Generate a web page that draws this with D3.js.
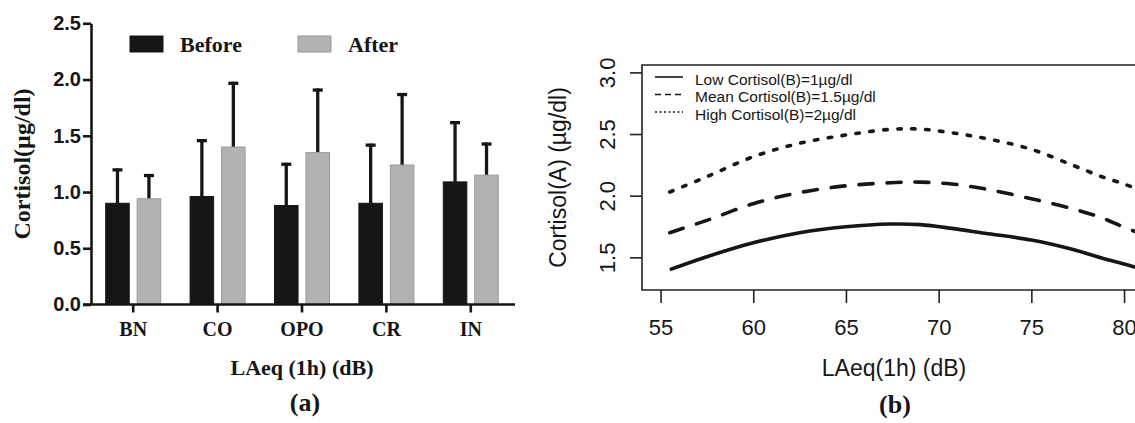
<!DOCTYPE html>
<html>
<head>
<meta charset="utf-8">
<script src="https://cdn.jsdelivr.net/npm/d3@7"></script>
<style>
  body { margin: 0; background: #fff; }
  svg { display: block; }
  .serif { font-family: "Liberation Serif", "Times New Roman", serif; font-weight: bold; }
  .sans { font-family: "Liberation Sans", Arial, sans-serif; }
</style>
</head>
<body>
<svg id="chart" width="1135" height="423"></svg>
<script>
// panel (a) data
const categories = ["BN", "CO", "OPO", "CR", "IN"];
const groups = ["Before", "After"];
const beforeMean = [0.90, 0.96, 0.88, 0.90, 1.09];
const beforeSD = [0.31, 0.51, 0.38, 0.53, 0.54];
const afterMean = [0.94, 1.40, 1.35, 1.24, 1.15];
const afterSD = [0.22, 0.58, 0.57, 0.64, 0.29];
const yTicksA = [0, 0.5, 1.0, 1.5, 2.0, 2.5];

// panel (b) data
const laeq = [55.5, 57.5, 60, 62.5, 65, 67.4, 69, 70.7, 72.5, 75, 77.2, 78.8, 79.9, 80.6];
const lowCort = [1.40, 1.505, 1.618, 1.70, 1.748, 1.77, 1.765, 1.735, 1.695, 1.64, 1.565, 1.495, 1.45, 1.42];
const meanCort = [1.70, 1.80, 1.935, 2.025, 2.08, 2.105, 2.11, 2.095, 2.055, 1.975, 1.895, 1.82, 1.75, 1.71];
const highCort = [2.03, 2.154, 2.316, 2.425, 2.492, 2.538, 2.54, 2.51, 2.465, 2.376, 2.249, 2.154, 2.10, 2.06];
const xTicksB = [55, 60, 65, 70, 75, 80];
const yTicksB = [1.5, 2.0, 2.5, 3.0];
const legendB = ["Low Cortisol(B)=1\u00b5g/dl", "Mean Cortisol(B)=1.5\u00b5g/dl", "High Cortisol(B)=2\u00b5g/dl"];

const svg = d3.select("#chart");
svg.append("rect").attr("width", 1135).attr("height", 423).attr("fill", "#fff");

// ---------- panel (a): bar chart ----------
const gA = svg.append("g");
const x0 = d3.scaleBand().domain(categories).range([91, 513]);
const x1 = d3.scaleBand().domain(groups).range([-28, 28]).paddingInner(0.22);
const yA = d3.scaleLinear().domain([0, 2.5]).range([304.5, 23.3]);

const barData = [];
categories.forEach((c, i) => {
  barData.push({ cat: c, grp: "Before", mean: beforeMean[i], sd: beforeSD[i] });
  barData.push({ cat: c, grp: "After", mean: afterMean[i], sd: afterSD[i] });
});
const fillA = { Before: "#161616", After: "#b2b2b2" };
const strokeA = { Before: "#161616", After: "#9a9a9a" };
const cx = d => x0(d.cat) + x0.bandwidth() / 2 + x1(d.grp);

// error bars first, bars cover the lower half
gA.selectAll(".err").data(barData).enter().append("line")
  .attr("x1", d => cx(d) + x1.bandwidth() / 2)
  .attr("x2", d => cx(d) + x1.bandwidth() / 2)
  .attr("y1", d => yA(d.mean))
  .attr("y2", d => yA(d.mean + d.sd))
  .attr("stroke", "#161616").attr("stroke-width", 3.3);
gA.selectAll(".cap").data(barData).enter().append("line")
  .attr("x1", d => cx(d) + x1.bandwidth() / 2 - 5)
  .attr("x2", d => cx(d) + x1.bandwidth() / 2 + 5)
  .attr("y1", d => yA(d.mean + d.sd) + 1.5)
  .attr("y2", d => yA(d.mean + d.sd) + 1.5)
  .attr("stroke", "#161616").attr("stroke-width", 3.3);

gA.selectAll(".bar").data(barData).enter().append("rect")
  .attr("x", d => cx(d) + 0.5)
  .attr("y", d => yA(d.mean))
  .attr("width", x1.bandwidth() - 1)
  .attr("height", d => yA(0) - yA(d.mean))
  .attr("fill", d => fillA[d.grp])
  .attr("stroke", d => strokeA[d.grp])
  .attr("stroke-width", 1);

// y axis
const yAxisA = gA.append("g").attr("transform", "translate(91,0)")
  .call(d3.axisLeft(yA).tickValues(yTicksA).tickFormat(d3.format(".1f")).tickSize(8).tickSizeOuter(0).tickPadding(2));
yAxisA.select(".domain").attr("stroke", "#161616").attr("stroke-width", 2.6);
yAxisA.selectAll(".tick line").attr("stroke", "#161616").attr("stroke-width", 2.6);
yAxisA.selectAll(".tick text").attr("class", "sans").attr("font-size", 20).attr("font-weight", "bold").attr("fill", "#161616");

// x axis
const xAxisA = gA.append("g").attr("transform", "translate(0,304.5)")
  .call(d3.axisBottom(x0).tickSize(8).tickSizeOuter(0).tickPadding(4));
xAxisA.select(".domain").attr("d", "M83,0H515").attr("stroke", "#161616").attr("stroke-width", 2.6);
xAxisA.selectAll(".tick line").attr("stroke", "#161616").attr("stroke-width", 2.6);
xAxisA.selectAll(".tick text").attr("class", "serif").attr("font-size", 20).attr("fill", "#161616")
  .attr("dy", null).attr("y", 31);

gA.append("text").attr("class", "serif")
  .attr("transform", "translate(30,164) rotate(-90)")
  .attr("text-anchor", "middle").attr("font-size", 24).attr("fill", "#161616")
  .text("Cortisol(\u00b5g/dl)");
gA.append("text").attr("class", "serif").attr("x", 302).attr("y", 375)
  .attr("text-anchor", "middle").attr("font-size", 22).attr("fill", "#161616")
  .text("LAeq (1h) (dB)");
gA.append("text").attr("class", "serif").attr("x", 305).attr("y", 411)
  .attr("text-anchor", "middle").attr("font-size", 26).attr("fill", "#161616")
  .text("(a)");

// legend (a)
const legA = gA.selectAll(".legA").data(groups).enter().append("g")
  .attr("transform", (d, i) => `translate(${130 + i * 168},36)`);
legA.append("rect").attr("width", 33).attr("height", 16)
  .attr("fill", d => fillA[d]).attr("stroke", d => strokeA[d]);
legA.append("text").attr("class", "serif").attr("x", 50).attr("y", 16)
  .attr("font-size", 22).attr("fill", "#161616").text(d => d);

// ---------- panel (b): curves ----------
const gB = svg.append("g");
const xB = d3.scaleLinear().domain([54, 82]).range([642, 642 + 28 * 18.54]);
const yB = d3.scaleLinear().domain([1.235, 3.06]).range([290, 65]);

gB.append("clipPath").attr("id", "clipB").append("rect")
  .attr("x", 642).attr("y", 65).attr("width", 600).attr("height", 225);

const line = d3.line().x(d => xB(d[0])).y(d => yB(d[1])).curve(d3.curveCatmullRom.alpha(0.5));
const curves = [
  { vals: lowCort, dash: null, cap: "butt" },
  { vals: meanCort, dash: "14,14", cap: "round" },
  { vals: highCort, dash: "3.5,10.5", cap: "round" }
];
gB.selectAll(".curve").data(curves).enter().append("path")
  .attr("clip-path", "url(#clipB)")
  .attr("d", c => line(laeq.map((v, i) => [v, c.vals[i]])))
  .attr("fill", "none").attr("stroke", "#161616").attr("stroke-width", 3.6)
  .attr("stroke-linecap", c => c.cap)
  .attr("stroke-dasharray", c => c.dash);

// box (right edge falls outside the picture)
gB.append("path").attr("d", "M1160,65H642V290H1160")
  .attr("fill", "none").attr("stroke", "#222").attr("stroke-width", 1.6);

const xAxisB = gB.append("g").attr("transform", "translate(0,290)")
  .call(d3.axisBottom(xB).tickValues(xTicksB).tickSize(13).tickPadding(7));
xAxisB.select(".domain").remove();
xAxisB.selectAll(".tick line").attr("stroke", "#222").attr("stroke-width", 1.6);
xAxisB.selectAll(".tick text").attr("class", "sans").attr("font-size", 22).attr("fill", "#161616")
  .attr("dy", null).attr("y", 45);

const yAxisB = gB.append("g").attr("transform", "translate(642,0)")
  .call(d3.axisLeft(yB).tickValues(yTicksB).tickFormat(d3.format(".1f")).tickSize(12));
yAxisB.select(".domain").remove();
yAxisB.selectAll(".tick line").attr("stroke", "#222").attr("stroke-width", 1.6);
yAxisB.selectAll(".tick text").attr("class", "sans").attr("font-size", 22).attr("fill", "#161616")
  .attr("x", null).attr("dy", null).attr("text-anchor", "middle")
  .attr("transform", "translate(-27,0) rotate(-90)");

gB.append("text").attr("class", "sans")
  .attr("transform", "translate(566,177.5) rotate(-90)")
  .attr("text-anchor", "middle").attr("font-size", 23).attr("fill", "#161616")
  .text("Cortisol(A) (\u00b5g/dl)");
gB.append("text").attr("class", "sans").attr("x", 894).attr("y", 376)
  .attr("text-anchor", "middle").attr("font-size", 23).attr("fill", "#161616")
  .text("LAeq(1h) (dB)");
gB.append("text").attr("class", "serif").attr("x", 895).attr("y", 413)
  .attr("text-anchor", "middle").attr("font-size", 26).attr("fill", "#161616")
  .text("(b)");

// legend (b)
const legB = gB.selectAll(".legB").data(legendB).enter().append("g")
  .attr("transform", (d, i) => `translate(655,${77 + i * 17.5})`);
legB.append("line").attr("x1", 0).attr("x2", 28)
  .attr("stroke", "#161616").attr("stroke-width", 1.6)
  .attr("stroke-dasharray", (d, i) => [null, "6,4", "2,2.5"][i]);
legB.append("text").attr("class", "sans").attr("x", 40).attr("y", 7.5)
  .attr("font-size", 15.5).attr("fill", "#161616").text(d => d);
</script>
</body>
</html>
